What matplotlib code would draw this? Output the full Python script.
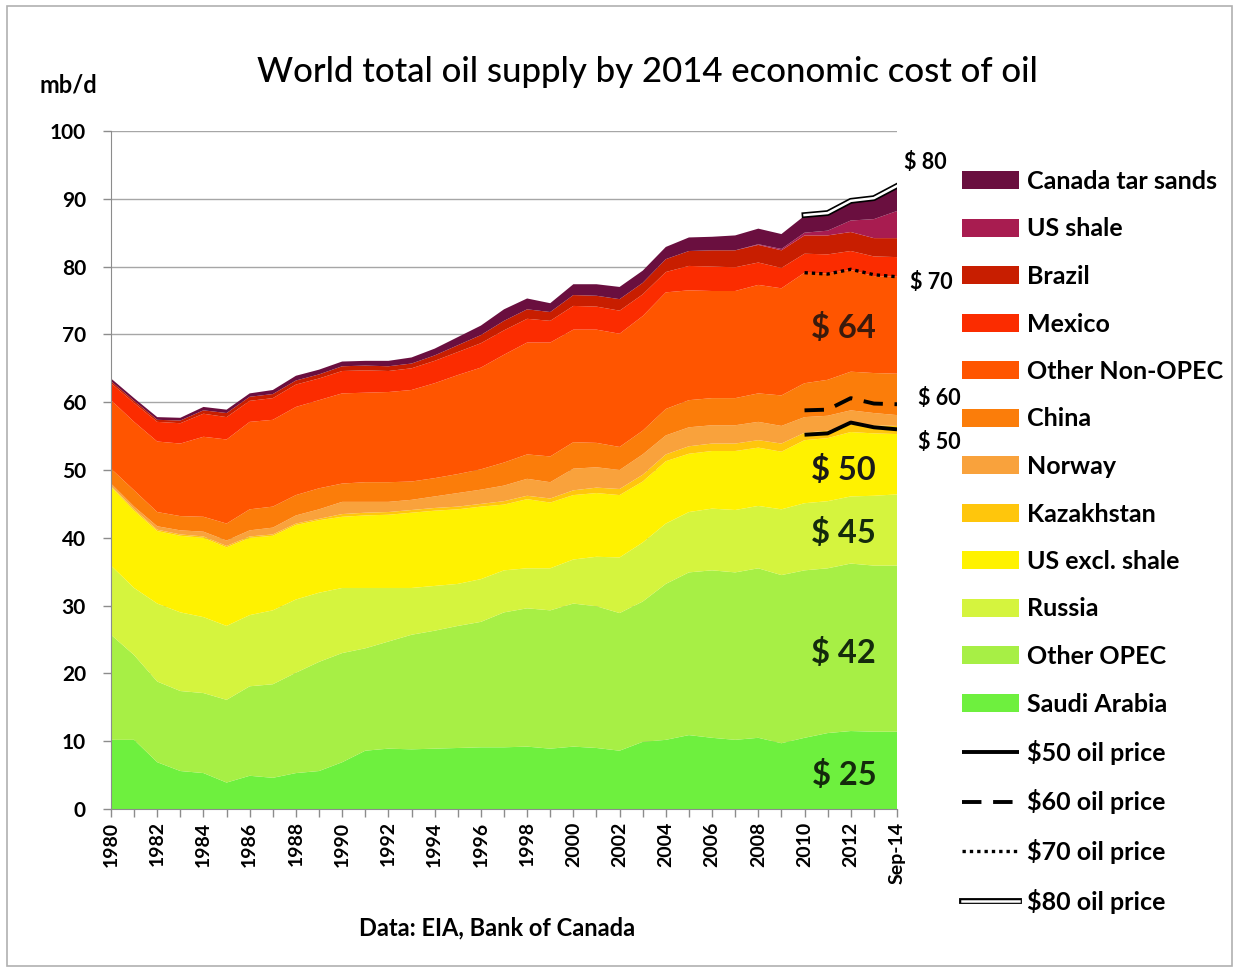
import matplotlib.pyplot as plt
import matplotlib.patheffects as pe
from matplotlib.patches import Rectangle

plt.rcParams['font.family'] = ['Lato', 'DejaVu Sans']

# years on the x axis (Sep-14 plotted at 2014)
years = list(range(1980, 2015))
tick_labels = [str(y) if (y - 1980) % 2 == 0 else '' for y in years]
tick_labels[-1] = 'Sep-14'

# supply by source, mb/d (bottom to top of the stack)
saudi_arabia = [10.2, 10.2, 6.9, 5.6, 5.3, 3.9, 4.9, 4.6, 5.3, 5.6,
                6.9, 8.6, 8.9, 8.8, 8.9, 9.0, 9.1, 9.1, 9.2, 8.9,
                9.2, 9.0, 8.6, 9.9, 10.2, 10.9, 10.5, 10.2, 10.5, 9.7,
                10.5, 11.2, 11.5, 11.4, 11.4]
other_opec = [15.5, 12.5, 11.9, 11.8, 11.8, 12.2, 13.2, 13.8, 14.8, 16.1,
              16.1, 15.1, 15.8, 16.9, 17.4, 18.0, 18.5, 19.9, 20.4, 20.4,
              21.1, 20.9, 20.3, 20.7, 23.0, 24.0, 24.7, 24.7, 25.0, 24.8,
              24.7, 24.3, 24.7, 24.5, 24.5]
russia = [10.2, 9.9, 11.5, 11.6, 11.2, 10.9, 10.5, 10.9, 10.8, 10.2,
          9.6, 8.9, 7.9, 6.9, 6.6, 6.2, 6.3, 6.2, 5.9, 6.2,
          6.5, 7.3, 8.2, 8.7, 8.9, 8.9, 9.1, 9.2, 9.2, 9.7,
          9.9, 9.9, 9.9, 10.3, 10.5]
us_excl_shale = [11.6, 11.4, 10.7, 11.3, 11.7, 11.6, 11.4, 11.0, 11.0, 10.7,
                 10.5, 10.7, 10.8, 11.1, 11.1, 11.0, 10.7, 9.7, 10.2, 9.7,
                 9.5, 9.4, 9.2, 9.0, 9.2, 8.6, 8.5, 8.7, 8.6, 8.5,
                 9.3, 9.3, 9.5, 9.2, 8.9]
kazakhstan = [0.2, 0.2, 0.2, 0.2, 0.2, 0.2, 0.2, 0.2, 0.2, 0.2,
              0.4, 0.4, 0.4, 0.4, 0.4, 0.4, 0.4, 0.5, 0.5, 0.6,
              0.7, 0.8, 0.9, 1.0, 1.0, 1.1, 1.1, 1.1, 1.1, 1.2,
              1.1, 1.1, 1.1, 1.2, 1.2]
norway = [0.3, 0.4, 0.5, 0.6, 0.7, 0.8, 0.9, 1.0, 1.2, 1.4,
          1.8, 1.6, 1.5, 1.5, 1.7, 2.0, 2.1, 2.3, 2.5, 2.4,
          3.2, 3.0, 2.8, 3.0, 2.8, 2.8, 2.7, 2.7, 2.7, 2.6,
          2.3, 2.2, 2.1, 1.8, 1.6]
china = [2.2, 2.4, 2.1, 2.1, 2.2, 2.5, 3.1, 3.1, 3.0, 3.1,
         2.7, 2.9, 2.9, 2.7, 2.7, 2.8, 3.0, 3.4, 3.6, 3.8,
         3.9, 3.6, 3.4, 3.5, 3.9, 4.0, 4.0, 4.0, 4.2, 4.5,
         5.0, 5.3, 5.7, 5.9, 6.1]
other_non_opec = [10.1, 10.1, 10.4, 10.7, 11.8, 12.4, 12.9, 12.8, 13.0, 13.0,
                  13.3, 13.2, 13.3, 13.5, 14.0, 14.6, 15.0, 15.9, 16.5, 16.8,
                  16.6, 16.7, 16.7, 16.9, 17.2, 16.2, 15.8, 15.8, 16.0, 15.8,
                  16.3, 15.7, 15.0, 14.3, 14.3]
mexico = [2.5, 2.8, 2.9, 3.0, 3.4, 3.3, 3.1, 3.2, 3.3, 3.2,
          3.3, 3.3, 3.1, 3.2, 3.3, 3.4, 3.6, 3.6, 3.5, 3.2,
          3.5, 3.4, 3.4, 3.2, 3.0, 3.6, 3.6, 3.5, 3.3, 3.0,
          2.8, 2.8, 2.8, 2.9, 2.9]
brazil = [0.3, 0.3, 0.3, 0.4, 0.5, 0.6, 0.6, 0.6, 0.6, 0.6,
          0.7, 0.7, 0.7, 0.7, 0.8, 1.0, 1.2, 1.4, 1.4, 1.3,
          1.6, 1.6, 1.7, 1.7, 1.9, 2.2, 2.4, 2.5, 2.6, 2.6,
          2.7, 2.8, 2.8, 2.7, 2.8]
us_shale = [0, 0, 0, 0, 0, 0, 0, 0, 0, 0,
            0, 0, 0, 0, 0, 0, 0, 0, 0, 0,
            0, 0, 0, 0, 0, 0, 0, 0, 0.1, 0.2,
            0.4, 0.7, 1.7, 2.8, 4.0]
canada_tar_sands = [0.4, 0.4, 0.4, 0.4, 0.5, 0.5, 0.5, 0.6, 0.7, 0.7,
                    0.7, 0.7, 0.8, 0.9, 1.0, 1.2, 1.4, 1.7, 1.6, 1.3,
                    1.6, 1.7, 1.8, 1.8, 1.8, 2.0, 2.0, 2.2, 2.3, 2.2,
                    2.5, 2.6, 3.0, 3.2, 3.8]

series_names = ['Saudi Arabia', 'Other OPEC', 'Russia', 'US excl. shale',
                'Kazakhstan', 'Norway', 'China', 'Other Non-OPEC',
                'Mexico', 'Brazil', 'US shale', 'Canada tar sands']
colors = ['#6ef03e', '#a7ef45', '#d5f43e', '#fff200', '#ffc60c', '#f9a23c',
          '#fb7d0a', '#ff5500', '#fb2c00', '#c81e00', '#a81c50', '#6a0f3f']

# oil price break-even lines
price_years = [2010, 2011, 2012, 2013, 2014]
price_50 = [55.2, 55.4, 57.0, 56.3, 56.0]
price_60 = [58.8, 58.9, 60.6, 59.8, 59.7]
price_70 = [79.1, 78.9, 79.6, 78.8, 78.5]
price_80 = [87.6, 87.9, 89.7, 90.1, 91.9]

fig = plt.figure(figsize=(12.38, 9.74), dpi=100)
fig.patches.append(Rectangle((7 / 1238, 8 / 974), 1225 / 1238, 960 / 974,
                             transform=fig.transFigure, fill=False,
                             edgecolor='#b0b0b0', linewidth=1.2))

ax = fig.add_axes([111 / 1238, 1 - 809 / 974, 786 / 1238, 678 / 974])

polys = ax.stackplot(years, saudi_arabia, other_opec, russia, us_excl_shale,
                     kazakhstan, norway, china, other_non_opec, mexico,
                     brazil, us_shale, canada_tar_sands,
                     colors=colors, labels=series_names, linewidth=0)

l50, = ax.plot(price_years, price_50, color='black', lw=2.8,
               solid_capstyle='butt', label='$50 oil price')
l60, = ax.plot(price_years, price_60, color='black', lw=2.8,
               dashes=(5, 3), label='$60 oil price')
l70, = ax.plot(price_years, price_70, color='black', lw=2.4,
               dashes=(1, 1.2), label='$70 oil price')
l80, = ax.plot(price_years, price_80, color='white', lw=1.8,
               path_effects=[pe.Stroke(linewidth=4.2, foreground='black'), pe.Normal()],
               label='$80 oil price')

ax.set_xlim(1980, 2014)
ax.set_ylim(0, 100)
ax.set_yticks(range(0, 101, 10))
ax.set_xticks(years)
ax.set_xticklabels(tick_labels, rotation=90)
ax.tick_params(axis='both', direction='out', length=6, width=1, color='#8c8c8c')
ax.tick_params(axis='y', labelsize=15, pad=12)
ax.tick_params(axis='x', labelsize=14, pad=3)
for lab in ax.get_xticklabels() + ax.get_yticklabels():
    lab.set_fontweight('bold')
ax.grid(axis='y', color='#a6a6a6', linewidth=1)
ax.set_axisbelow(True)
for s in ['top', 'right']:
    ax.spines[s].set_visible(False)
for s in ['left', 'bottom']:
    ax.spines[s].set_color('#8c8c8c')

# cost labels inside the stack
zone_labels = [('$ 64', 70.9, '#3a1a0c'), ('$ 50', 50.0, '#1a1a1a'),
               ('$ 45', 40.7, '#142a0c'), ('$ 42', 23.0, '#142a0c'),
               ('$ 25', 5.0, '#142a0c')]
for txt, yv, c in zone_labels:
    ax.text(2011.7, yv, txt, ha='center', va='center', fontsize=23.5,
            fontweight='bold', color=c)

# price labels to the right of the plot
price_labels = [('$ 80', 2014.3, 95.4), ('$ 70', 2014.55, 77.6),
                ('$ 60', 2014.9, 60.5), ('$ 50', 2014.9, 54.0)]
for txt, xv, yv in price_labels:
    ax.text(xv, yv, txt, ha='left', va='center', fontsize=15.5,
            fontweight='bold', clip_on=False)

fig.text(647 / 1238, 1 - 72 / 974, 'World total oil supply by 2014 economic cost of oil',
         ha='center', va='center', fontsize=25, fontweight='medium')
fig.text(68 / 1238, 1 - 85 / 974, 'mb/d', ha='center', va='center',
         fontsize=17, fontweight='bold')
fig.text(497 / 1238, 1 - 928 / 974, 'Data: EIA, Bank of Canada', ha='center',
         va='center', fontsize=17, fontweight='bold')

handles = list(polys[::-1]) + [l50, l60, l70, l80]
fig.legend(handles, [h.get_label() for h in handles], loc='upper left',
           bbox_to_anchor=(962 / 1238, 1 - 170 / 974), frameon=False,
           prop=dict(weight='bold', size=18), handlelength=2.28,
           handleheight=0.72, labelspacing=0.98, handletextpad=0.32,
           borderpad=0, borderaxespad=0)

fig.savefig('out.png', dpi=100, facecolor='white')
